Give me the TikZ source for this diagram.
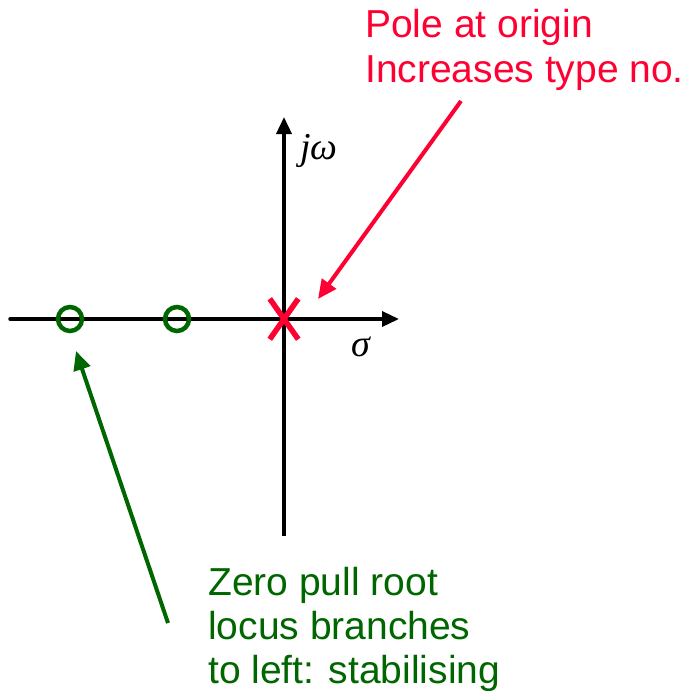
\documentclass[tikz,border=0pt]{standalone}
\usepackage{fontspec}
\setmainfont{Liberation Sans}
\newfontfamily\symfont{Liberation Serif}
\usetikzlibrary{arrows.meta,shapes.misc}
\definecolor{polered}{RGB}{255,0,51}
\definecolor{zerogreen}{RGB}{0,102,0}
\tikzset{
  axis/.style={line width=3.5pt,-{Triangle[length=17pt,width=15pt]}},
  zeromark/.style={circle,draw=zerogreen,line width=4.5pt,minimum size=24pt,inner sep=0pt},
  polemark/.style={cross out,draw=polered,line width=5.5pt,minimum width=23pt,minimum height=35pt,inner sep=0pt},
  callout/.style={font=\fontsize{39}{45}\selectfont,align=left,anchor=base west,inner sep=0pt},
  pointer/.style={line width=4pt,-{Triangle[length=19pt,width=17pt]}},
  greek/.style={font=\fontsize{38}{42}\selectfont\symfont\itshape,inner sep=0pt,anchor=base west}
}
\begin{document}
\begin{tikzpicture}[x=1pt,y=-1pt]
\useasboundingbox (0,0) rectangle (691,691);
% axes
\coordinate (hstart) at (10,319);
\coordinate (hend) at (399,319);
\coordinate (vstart) at (284,536);
\coordinate (vend) at (284,117);
\draw[axis,line cap=round] (hstart) -- (hend);
\draw[axis] (vstart) -- (vend);
\node[greek] (jw) at (300,159) {jω};
\node[greek] (sig) at (351,356) {σ};
% zeros and pole
\node[zeromark] (z1) at (70,319) {};
\node[zeromark] (z2) at (177,319) {};
\node[polemark] (p) at (284,319) {};
% texts
\node[callout,text=polered] (poletext) at (365,82) {Pole at origin\\Increases type no.};
\node[callout,text=zerogreen,font=\fontsize{39}{44}\selectfont] (zerotext) at (208,683) {Zero pull root\\locus branches\\to left: stabilising};
% pointers
\coordinate (rtail) at (461,101);
\coordinate (rtip) at (318,299);
\coordinate (gtail) at (168,623);
\coordinate (gtip) at (76,351);
\draw[pointer,draw=polered,fill=polered] (rtail) -- (rtip);
\draw[pointer,draw=zerogreen,fill=zerogreen] (gtail) -- (gtip);
\end{tikzpicture}
\end{document}
